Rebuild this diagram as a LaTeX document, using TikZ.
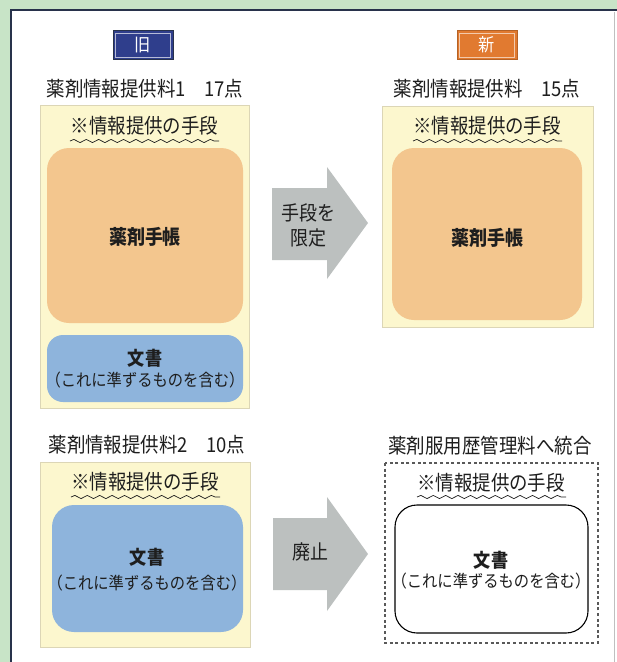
\documentclass[tikz,border=0pt]{standalone}
\usepackage{fontspec}
\setmainfont[FakeStretch=0.9]{Noto Sans CJK JP}
\usetikzlibrary{decorations.pathmorphing}
\definecolor{bggreen}{RGB}{200,228,199}
\definecolor{framec}{RGB}{40,50,75}
\definecolor{paneyellow}{RGB}{252,247,206}
\definecolor{paneedge}{RGB}{220,214,182}
\definecolor{boxorange}{RGB}{243,198,142}
\definecolor{boxblue}{RGB}{142,180,220}
\definecolor{arrowgray}{RGB}{188,192,191}
\definecolor{oldblue}{RGB}{47,62,140}
\definecolor{neworange}{RGB}{225,122,48}
\definecolor{txt}{RGB}{30,30,30}
\tikzset{
  title/.style={font=\fontsize{20.5}{22}\selectfont, text=txt, inner sep=0},
  heading/.style={font=\fontsize{20.5}{22}\selectfont, text=txt, inner sep=0},
  wave/.style={draw=txt, line width=0.7pt, decorate, decoration={snake, segment length=12.4pt, amplitude=1.6pt}},
  panel/.style={fill=paneyellow, draw=paneedge, line width=0.6pt},
  orangebox/.style={fill=boxorange, rounded corners=22pt},
  bluebox/.style={fill=boxblue, rounded corners=16pt},
  whitebox/.style={fill=white, draw=black, line width=1.1pt, rounded corners=22pt},
  dashbox/.style={draw=black!65, line width=1.2pt, dash pattern=on 3pt off 2.6pt},
  boldlabel/.style={font=\fontsize{20}{22}\selectfont\bfseries, text=txt, inner sep=0},
  bunsho/.style={font=\fontsize{19}{21}\selectfont\bfseries, text=txt, inner sep=0},
  paren/.style={font=\fontsize{17}{19}\selectfont, text=txt, inner sep=0},
  blockarrow/.style={fill=arrowgray},
  arrowtext/.style={font=\fontsize{20}{25}\selectfont, text=txt, align=center, inner sep=0},
  tag/.style={minimum width=60pt, minimum height=29pt, inner sep=0, text=white, font=\fontsize{18}{20}\selectfont}
}
\begin{document}
\begin{tikzpicture}[x=1pt,y=-1pt]
\useasboundingbox (0,0) rectangle (617,662);
\fill[bggreen] (0,0) rectangle (617,662);
\fill[white] (11,10) rectangle (617,662);
\draw[black!25, line width=0.6pt] (614,12) -- (614,662);
\draw[framec, line width=1.6pt] (11,670) -- (11,10) -- (617,10);

% tags
\node[tag, fill=oldblue, draw=framec, line width=0.8pt] (old) at (143,45) {旧};
\draw[white!65!oldblue, line width=0.7pt] ([shift={(3,-3)}]old.south west) rectangle ([shift={(-3,3)}]old.north east);
\node[tag, fill=neworange, draw=neworange!80!black, line width=0.8pt] (new) at (487,45) {新};
\draw[white!60!neworange, line width=0.7pt] ([shift={(3,-3)}]new.south west) rectangle ([shift={(-3,3)}]new.north east);

% titles
\node[title] (t1) at (145,89) {薬剤情報提供料1　17点};
\node[title] (t2) at (487,89) {薬剤情報提供料　15点};
\node[title] (t3) at (147,445) {薬剤情報提供料2　10点};
\node[title] (t4) at (490,446) {薬剤服用歴管理料へ統合};

% top-left panel
\draw[panel] (40,105) rectangle (249,408);
\node[heading] (h1) at (144.5,126) {※情報提供の手段};
\draw[wave] (70,141) -- (219,141);
\fill[orangebox] (47,148) rectangle (243,323);
\node[boldlabel] (m1) at (145,237) {薬剤手帳};
\fill[bluebox] (47,335) rectangle (243,402);
\node[bunsho] (d1) at (145,358) {文書};
\node[paren] (q1) at (145,380) {（これに準ずるものを含む）};

% top-right panel
\draw[panel] (382,106) rectangle (593,327);
\node[heading] (h2) at (487,126) {※情報提供の手段};
\draw[wave] (413,141) -- (562,141);
\fill[orangebox] (392,148) rectangle (582,320);
\node[boldlabel] (m2) at (487,238) {薬剤手帳};

% arrow 1
\fill[blockarrow] (272,188) -- (327,188) -- (327,167) -- (368,223) -- (327,279) -- (327,260) -- (272,260) -- cycle;
\node[arrowtext] (a1) at (308,225) {手段を\\限定};

% bottom-left panel
\draw[panel] (40,462) rectangle (250,647);
\node[heading] (h3) at (145,482) {※情報提供の手段};
\draw[wave] (71,497) -- (220,497);
\fill[bluebox, rounded corners=22pt] (52,505) rectangle (243,632);
\node[bunsho] (d3) at (147,557) {文書};
\node[paren] (q3) at (147,583) {（これに準ずるものを含む）};

% arrow 2
\fill[blockarrow] (273,518) -- (327,518) -- (327,497) -- (368,554) -- (327,611) -- (327,590) -- (273,590) -- cycle;
\node[arrowtext] (a2) at (310,552) {廃止};

% bottom-right dashed panel
\draw[dashbox] (385,463) rectangle (598,643);
\node[heading] (h4) at (491,483) {※情報提供の手段};
\draw[wave] (417,497) -- (566,497);
\draw[whitebox] (395,505) rectangle (588,633);
\node[bunsho] (d4) at (491,560) {文書};
\node[paren] (q4) at (491,581) {（これに準ずるものを含む）};
\end{tikzpicture}
\end{document}
